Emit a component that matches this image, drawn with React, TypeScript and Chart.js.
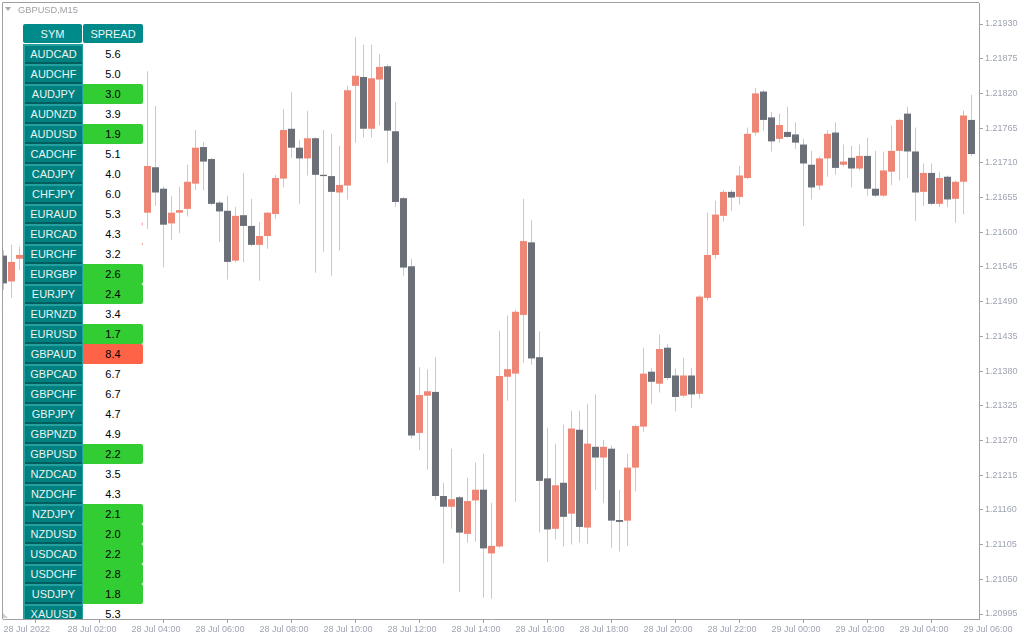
import React, { useEffect, useRef } from "react";
import { Chart, registerables } from "chart.js";

Chart.register(...registerables);

// ---- Candle data (GBPUSD, M15), bar 0 = 28 Jul 2022 00:00 ----
const opens = [
  1.21563, 1.21522, 1.21558, 1.21564, 1.21575, 1.2156, 1.21545, 1.2157, 1.21604, 1.21598,
  1.21615, 1.2164, 1.2162, 1.21592, 1.216, 1.21618, 1.21605, 1.2158, 1.21631, 1.21703,
  1.21669, 1.21614, 1.21631, 1.21637, 1.21677, 1.21735, 1.21716, 1.21647, 1.21634, 1.21555,
  1.21627, 1.2161, 1.2158, 1.21594, 1.21629, 1.21685, 1.21764, 1.21734, 1.21717, 1.21749,
  1.21691, 1.21689, 1.21663, 1.21674, 1.21832, 1.21846, 1.21764, 1.21842, 1.21863, 1.2176,
  1.21654, 1.21546, 1.21282, 1.21341, 1.21347, 1.21182, 1.21165, 1.2118, 1.21122, 1.21175,
  1.21192, 1.21091, 1.21102, 1.21371, 1.21376, 1.21469, 1.21584, 1.21402, 1.2121, 1.2113,
  1.21203, 1.21154, 1.21287, 1.21132, 1.2126, 1.21243, 1.21257, 1.21144, 1.21143, 1.21227,
  1.21292, 1.21379, 1.2136, 1.21417, 1.21373, 1.21341, 1.21373, 1.21344, 1.21496, 1.21564,
  1.21626, 1.21664, 1.21656, 1.21686, 1.21758, 1.21823, 1.21782, 1.21748, 1.21759, 1.21755,
  1.21739, 1.21707, 1.21674, 1.21717, 1.21758, 1.21707, 1.21718, 1.21701, 1.21721, 1.21669,
  1.21658, 1.21696, 1.21729, 1.21788, 1.21728, 1.21664, 1.21694, 1.21645, 1.21688, 1.21653,
  1.2168, 1.21778,
];
const highs = [
  1.21572, 1.2158, 1.21577, 1.2159, 1.21598, 1.21585, 1.2158, 1.21612, 1.2163, 1.21622,
  1.21648, 1.21655, 1.21633, 1.2161, 1.21628, 1.2164, 1.21615, 1.21645, 1.21855, 1.218,
  1.21673, 1.21657, 1.21672, 1.21707, 1.21762, 1.21743, 1.21718, 1.2165, 1.21658, 1.2164,
  1.21694, 1.21653, 1.21616, 1.21632, 1.21691, 1.21795, 1.21822, 1.21746, 1.21792, 1.21751,
  1.21762, 1.21756, 1.21737, 1.21832, 1.21909, 1.21897, 1.21897, 1.21882, 1.21866, 1.21806,
  1.21656, 1.21558, 1.21386, 1.21383, 1.21402, 1.21203, 1.21257, 1.21182, 1.21211, 1.21235,
  1.21249, 1.21171, 1.21444, 1.21468, 1.21477, 1.21653, 1.21619, 1.21443, 1.2129, 1.21265,
  1.21295, 1.21317, 1.21317, 1.21328, 1.21343, 1.21271, 1.21262, 1.21192, 1.21249, 1.21295,
  1.21417, 1.21385, 1.21438, 1.21423, 1.21384, 1.21401, 1.21385, 1.215, 1.21631, 1.2165,
  1.21667, 1.21667, 1.21705, 1.21766, 1.21829, 1.21825, 1.21791, 1.21788, 1.21799, 1.21774,
  1.21748, 1.21729, 1.2172, 1.21762, 1.21774, 1.21739, 1.21737, 1.21739, 1.2175, 1.21729,
  1.21728, 1.21769, 1.2178, 1.21799, 1.21766, 1.21709, 1.21709, 1.21696, 1.2169, 1.21682,
  1.21793, 1.21818,
];
const lows = [
  1.21509, 1.21496, 1.2154, 1.21548, 1.21552, 1.2153, 1.21535, 1.21562, 1.2159, 1.21575,
  1.21605, 1.2161, 1.21585, 1.2157, 1.2159, 1.21598, 1.21578, 1.2157, 1.21605, 1.21642,
  1.21544, 1.21588, 1.21599, 1.21625, 1.21667, 1.21666, 1.21643, 1.21585, 1.21525, 1.21552,
  1.21552, 1.21578, 1.21523, 1.21574, 1.21621, 1.21671, 1.21718, 1.21645, 1.2169, 1.21536,
  1.21569, 1.21531, 1.21571, 1.21652, 1.21742, 1.2175, 1.2175, 1.21769, 1.2171, 1.2164,
  1.21531, 1.21273, 1.21255, 1.21224, 1.21176, 1.21075, 1.2113, 1.2103, 1.21108, 1.2111,
  1.21021, 1.21019, 1.211, 1.21333, 1.21173, 1.21393, 1.2139, 1.21124, 1.21078, 1.21113,
  1.21102, 1.21105, 1.21108, 1.21106, 1.21192, 1.21171, 1.211, 1.21094, 1.21103, 1.21189,
  1.21284, 1.21328, 1.21346, 1.21366, 1.21316, 1.21338, 1.21322, 1.21336, 1.21492, 1.21558,
  1.21617, 1.21634, 1.21644, 1.21684, 1.21753, 1.21761, 1.21728, 1.21742, 1.2175, 1.21732,
  1.2161, 1.21652, 1.21667, 1.21688, 1.21691, 1.21704, 1.21671, 1.21698, 1.21658, 1.21656,
  1.21656, 1.21675, 1.21682, 1.21686, 1.21618, 1.21642, 1.21643, 1.2164, 1.2164, 1.21615,
  1.21628, 1.2172,
];
const closes = [
  1.21519, 1.21553, 1.21564, 1.21575, 1.2156, 1.21545, 1.2157, 1.21604, 1.21598, 1.21615,
  1.2164, 1.2162, 1.21592, 1.216, 1.21618, 1.21605, 1.21582, 1.21633, 1.21705, 1.21663,
  1.21612, 1.21631, 1.21635, 1.2168, 1.21734, 1.21712, 1.21645, 1.21633, 1.21553, 1.21626,
  1.2161, 1.2158, 1.21594, 1.21631, 1.21686, 1.21762, 1.21734, 1.21717, 1.21749, 1.21691,
  1.21689, 1.21664, 1.21675, 1.21825, 1.21848, 1.21764, 1.21844, 1.21862, 1.21761, 1.21648,
  1.21544, 1.21278, 1.21342, 1.21348, 1.21182, 1.21165, 1.21177, 1.21124, 1.21174, 1.21192,
  1.21099, 1.21103, 1.21372, 1.21383, 1.21474, 1.21586, 1.214, 1.21206, 1.21129, 1.21199,
  1.21149, 1.21289, 1.21133, 1.21265, 1.21243, 1.2126, 1.21143, 1.21141, 1.21227, 1.21293,
  1.21376, 1.21363, 1.21415, 1.21369, 1.21339, 1.21373, 1.21343, 1.21498, 1.21564, 1.21628,
  1.21664, 1.21655, 1.2169, 1.21756, 1.2182, 1.21778, 1.21744, 1.2177, 1.21751, 1.21742,
  1.21709, 1.21671, 1.21717, 1.21756, 1.21702, 1.21712, 1.21701, 1.21721, 1.21669, 1.21658,
  1.21698, 1.21729, 1.21778, 1.21728, 1.21663, 1.21694, 1.21645, 1.21686, 1.21652, 1.2168,
  1.21785, 1.21724,
];

// time-axis labels, one every 8 bars (2 hours)
const xTickLabels = [
  "28 Jul 2022", "28 Jul 02:00", "28 Jul 04:00", "28 Jul 06:00", "28 Jul 08:00",
  "28 Jul 10:00", "28 Jul 12:00", "28 Jul 14:00", "28 Jul 16:00", "28 Jul 18:00",
  "28 Jul 20:00", "28 Jul 22:00", "29 Jul 00:00", "29 Jul 02:00", "29 Jul 04:00",
  "29 Jul 06:00",
];
const yTickValues = [
  1.20995, 1.2105, 1.21105, 1.2116, 1.21215, 1.2127, 1.21325, 1.2138, 1.21435,
  1.2149, 1.21545, 1.216, 1.21655, 1.2171, 1.21765, 1.2182, 1.21875, 1.2193,
];

// spread table
const symbols = [
  "AUDCAD", "AUDCHF", "AUDJPY", "AUDNZD", "AUDUSD", "CADCHF", "CADJPY", "CHFJPY",
  "EURAUD", "EURCAD", "EURCHF", "EURGBP", "EURJPY", "EURNZD", "EURUSD", "GBPAUD",
  "GBPCAD", "GBPCHF", "GBPJPY", "GBPNZD", "GBPUSD", "NZDCAD", "NZDCHF", "NZDJPY",
  "NZDUSD", "USDCAD", "USDCHF", "USDJPY", "XAUUSD",
];
const spreads = [
  5.6, 5.0, 3.0, 3.9, 1.9, 5.1, 4.0, 6.0,
  5.3, 4.3, 3.2, 2.6, 2.4, 3.4, 1.7, 8.4,
  6.7, 6.7, 4.7, 4.9, 2.2, 3.5, 4.3, 2.1,
  2.0, 2.2, 2.8, 1.8, 5.3,
];

const BULL = "#EE8676";
const BEAR = "#6A6F78";
const WICK = "#C7C8D2";
const AXIS = "#A0A0A0";
const LABEL = "#9EA4B2";
const FONT = "'Liberation Sans', Arial, sans-serif";

export default function App() {
  const ref = useRef<HTMLCanvasElement | null>(null);

  useEffect(() => {
    if (!ref.current) return;
    const idx = opens.map((_, i) => i);
    const bodies = idx.map((i) => ({ x: i, y: [opens[i], closes[i]] }));
    const wicks = idx.map((i) => ({ x: i, y: [lows[i], highs[i]] }));
    const colors = idx.map((i) => (closes[i] >= opens[i] ? BULL : BEAR));

    const framePlugin = {
      id: "frame",
      afterDraw(chart: any) {
        const { ctx, chartArea: a } = chart;
        ctx.save();
        ctx.strokeStyle = AXIS;
        ctx.lineWidth = 1;
        ctx.beginPath();
        ctx.moveTo(2.5, a.bottom);
        ctx.lineTo(2.5, 2.5);
        ctx.lineTo(a.right, 2.5);
        ctx.stroke();
        ctx.restore();
      },
    };

    const gridOpts = {
      display: true,
      drawOnChartArea: false,
      drawTicks: true,
      tickLength: 4,
      color: AXIS,
    };

    const chart = new Chart(ref.current, {
      type: "bar",
      data: {
        datasets: [
          {
            data: bodies as any,
            backgroundColor: colors,
            barThickness: 7,
            grouped: false,
            inflateAmount: 0,
            borderWidth: 0,
            order: 0,
          } as any,
          {
            data: wicks as any,
            backgroundColor: WICK,
            barThickness: 1,
            grouped: false,
            inflateAmount: 0,
            borderWidth: 0,
            order: 1,
          } as any,
        ],
      },
      options: {
        animation: false,
        responsive: false,
        events: [],
        layout: { padding: { left: 3, top: 3, right: 0, bottom: 0 } },
        plugins: { legend: { display: false }, tooltip: { enabled: false } },
        scales: {
          x: {
            type: "linear",
            min: -0.0625,
            max: 121.9375,
            offset: false,
            grid: gridOpts,
            border: { display: true, color: AXIS },
            ticks: {
              autoSkip: false,
              maxRotation: 0,
              minRotation: 0,
              align: "start",
              padding: 1,
              color: LABEL,
              font: { family: FONT, size: 9 },
              callback: (_v: any, i: number) => xTickLabels[i] ?? "",
            },
            afterBuildTicks: (s: any) => {
              s.ticks = xTickLabels.map((_, k) => ({ value: k * 8 }));
            },
            afterFit: (s: any) => {
              s.height = 21;
              s.paddingLeft = 0;
              s.paddingRight = 0;
            },
          },
          y: {
            type: "linear",
            position: "right",
            min: 1.209871,
            max: 1.219633,
            grid: gridOpts,
            border: { display: true, color: AXIS },
            ticks: {
              padding: 2,
              color: LABEL,
              font: { family: FONT, size: 9 },
              callback: (v: any) => Number(v).toFixed(5),
            },
            afterBuildTicks: (s: any) => {
              s.ticks = yTickValues.map((v) => ({ value: v }));
            },
            afterFit: (s: any) => {
              s.width = 45;
              s.paddingTop = 0;
              s.paddingBottom = 0;
            },
          },
        },
      } as any,
      plugins: [framePlugin],
    });
    return () => chart.destroy();
  }, []);

  const spreadBg = (v: number) => (v >= 8 ? "#FF6347" : v <= 3.0 ? "#32CD32" : "#FFFFFF");

  return (
    <div
      style={{
        position: "absolute",
        left: 0,
        top: 0,
        width: 1024,
        height: 640,
        background: "#fff",
        overflow: "hidden",
        fontFamily: FONT,
      }}
    >
      <canvas ref={ref} width={1024} height={640} style={{ position: "absolute", left: 0, top: 0 }} />

      {/* title */}
      <div
        style={{
          position: "absolute",
          left: 5,
          top: 7,
          width: 0,
          height: 0,
          borderLeft: "3px solid transparent",
          borderRight: "3px solid transparent",
          borderTop: "4px solid #A8A8A8",
        }}
      />
      <div
        style={{
          position: "absolute",
          left: 18,
          top: 4,
          fontSize: 9.3,
          lineHeight: "12px",
          color: "#A0A0A6",
          whiteSpace: "nowrap",
        }}
      >
        GBPUSD,M15
      </div>

      {/* bottom-left corner mark */}
      <div
        style={{
          position: "absolute",
          left: 3,
          top: 613,
          width: 0,
          height: 0,
          borderBottom: "5px solid #D0D0D8",
          borderRight: "5px solid transparent",
        }}
      />

      {/* spread table */}
      <div
        style={{
          position: "absolute",
          left: 23,
          top: 24,
          width: 120,
          height: 595,
          overflow: "hidden",
        }}
      >
        <div
          style={{
            position: "absolute",
            left: 0,
            top: 0,
            width: 59,
            height: 19,
            background: "#008A8A",
            borderRadius: 2,
            color: "#EEF6F6",
            fontSize: 11,
            lineHeight: "20px",
            textAlign: "center",
          }}
        >
          SYM
        </div>
        <div
          style={{
            position: "absolute",
            left: 60,
            top: 0,
            width: 60,
            height: 19,
            background: "#008A8A",
            borderRadius: 2,
            color: "#EEF6F6",
            fontSize: 11,
            lineHeight: "20px",
            textAlign: "center",
          }}
        >
          SPREAD
        </div>
        {symbols.map((s, i) => {
          const top = 20 + i * 20;
          return (
            <React.Fragment key={s}>
              <div
                style={{
                  position: "absolute",
                  left: 0,
                  top,
                  width: 60,
                  height: 20,
                  background: "#23A0A0",
                }}
              >
                <div
                  style={{
                    position: "absolute",
                    left: 2,
                    top: 2,
                    width: 57,
                    height: 16,
                    background: "#00807F",
                    color: "#EAF4F4",
                    fontSize: 11,
                    lineHeight: "17px",
                    textAlign: "center",
                  }}
                >
                  {s}
                </div>
                <div
                  style={{
                    position: "absolute",
                    left: 2,
                    top: 18,
                    width: 57,
                    height: 2,
                    background: "#005F5E",
                  }}
                />
              </div>
              <div
                style={{
                  position: "absolute",
                  left: 60,
                  top,
                  width: 60,
                  height: 20,
                  background: spreadBg(spreads[i]),
                  borderRadius: "0 2px 2px 0",
                  color: "#000",
                  fontSize: 11,
                  lineHeight: "21px",
                  textAlign: "center",
                }}
              >
                {spreads[i].toFixed(1)}
              </div>
            </React.Fragment>
          );
        })}
      </div>
    </div>
  );
}
